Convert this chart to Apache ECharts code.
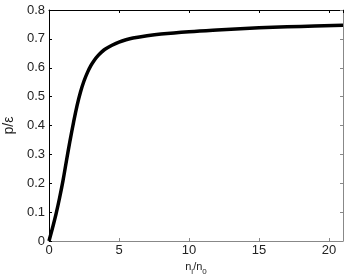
<!DOCTYPE html>
<html><head><meta charset="utf-8">
<script src="https://cdn.jsdelivr.net/npm/echarts@6/dist/echarts.min.js"></script>
<style>html,body{margin:0;padding:0;background:#fff}#c{width:346px;height:274px}</style>
</head><body><div id="c"></div>
<script>
const xValues = [0, 0.25, 0.5, 0.75, 1.0, 1.25, 1.5, 1.75, 2.0, 2.25, 2.5, 2.75, 3.0, 3.25, 3.5, 3.75, 4.0, 4.5, 5.0, 5.5, 6, 7, 8, 10, 12, 14, 16, 18, 21];
const yValues = [0, 0.045, 0.093, 0.148, 0.209, 0.279, 0.347, 0.41, 0.468, 0.516, 0.554, 0.584, 0.608, 0.627, 0.642, 0.654, 0.664, 0.678, 0.689, 0.697, 0.703, 0.711, 0.717, 0.725, 0.731, 0.736, 0.740, 0.743, 0.747];
const xTicks = [0, 5, 10, 15, 20];
const yTicks = [0, 0.1, 0.2, 0.3, 0.4, 0.5, 0.6, 0.7, 0.8];

const font = 'Liberation Sans, Arial, sans-serif';
const chart = echarts.init(document.getElementById('c'));
const data = xValues.map((x, i) => [x, yValues[i]]);
chart.setOption({
  animation: false,
  grid: { left: 49, right: 3, top: 10, bottom: 33, containLabel: false, outerBoundsMode: 'none' },
  xAxis: [{
    type: 'value', min: 0, max: 21, interval: 5, position: 'bottom',
    axisLine: { show: true, lineStyle: { color: '#888', width: 1 } },
    axisTick: { show: true, inside: true, length: 3, lineStyle: { color: '#888' } },
    axisLabel: { showMaxLabel: false, color: '#222', fontSize: 13, fontFamily: font, margin: 3,
      formatter: v => xTicks.includes(v) ? String(v) : '' },
    splitLine: { show: false },
    name: '{n|n}{s|l}{n|/n}{s|0}', nameLocation: 'middle', nameGap: 20,
    nameTextStyle: { fontFamily: font, rich: {
      n: { fontSize: 11, color: '#222', fontFamily: font, verticalAlign: 'top', lineHeight: 14 },
      s: { fontSize: 8, color: '#222', fontFamily: font, verticalAlign: 'bottom', lineHeight: 14, padding: [5, 0, 0, 0] }
    } }
  }, {
    type: 'value', min: 0, max: 21, interval: 5, position: 'top',
    axisLine: { show: true, onZero: false, lineStyle: { color: '#000', width: 1 } },
    axisTick: { show: true, inside: true, length: 3, lineStyle: { color: '#000' } },
    axisLabel: { show: false }, splitLine: { show: false }
  }],
  yAxis: [{
    type: 'value', min: 0, max: 0.8, interval: 0.1, position: 'left',
    axisLine: { show: true, lineStyle: { color: '#000', width: 1 } },
    axisTick: { show: true, inside: true, length: 3, lineStyle: { color: '#000' } },
    axisLabel: { color: '#222', fontSize: 13, fontFamily: font, margin: 4,
      formatter: v => { const t = yTicks.find(k => Math.abs(k - v) < 1e-9); return t === undefined ? '' : (t === 0 ? '0' : t.toFixed(1)); } },
    splitLine: { show: false },
    name: 'p/ε', nameLocation: 'middle', nameGap: 32,
    nameTextStyle: { fontSize: 14, color: '#222', fontFamily: font }
  }, {
    type: 'value', min: 0, max: 0.8, interval: 0.1, position: 'right',
    axisLine: { show: true, onZero: false, lineStyle: { color: '#888', width: 1 } },
    axisTick: { show: true, inside: true, length: 3, lineStyle: { color: '#888' } },
    axisLabel: { show: false }, splitLine: { show: false }
  }],
  series: [{
    type: 'line', data: data, smooth: 0.4, showSymbol: false,
    xAxisIndex: 0, yAxisIndex: 0,
    lineStyle: { color: '#000', width: 3.5 }
  }]
});
</script></body></html>
